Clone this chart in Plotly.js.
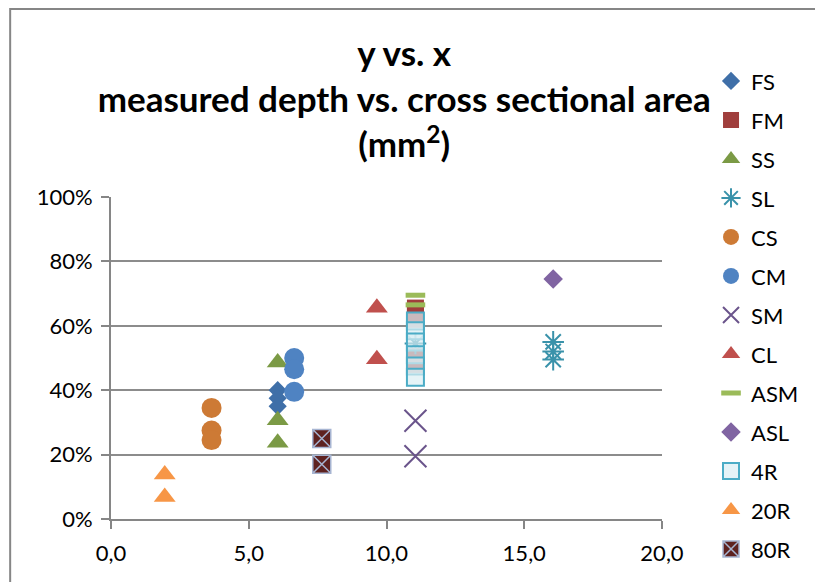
<!DOCTYPE html>
<html>
<head>
<meta charset="utf-8">
<script src="https://cdn.plot.ly/plotly-3.0.1.min.js"></script>
<style>html,body{margin:0;padding:0;background:#fff}#chart{width:815px;height:582px}</style>
</head>
<body>
<div id="chart"></div>
<script>
// Series names (legend order)
const seriesNames = ["FS","FM","SS","SL","CS","CM","SM","CL","ASM","ASL","4R","20R","80R"];

// x = cross sectional area (mm²), y = measured depth (%)
const xFS = [6.05, 6.05, 6.05];          const yFS = [40, 37.5, 35];
const xFM = [11.05, 11.05, 11.05, 11.05, 11.05]; const yFM = [65.5, 63.5, 62, 50.5, 48];
const xSS = [6.05, 6.05, 6.05];          const ySS = [48.6, 30.7, 23.7];
const xSL = [11.05, 16.05, 16.05, 16.05]; const ySL = [54.5, 55, 52, 49.5];
const xCS = [3.65, 3.65, 3.65];          const yCS = [34.5, 27.5, 24.5];
const xCM = [6.65, 6.65, 6.65];          const yCM = [50, 46.5, 39.5];
const xSM = [11.05, 11.05];              const ySM = [30.5, 19.5];
const xCL = [9.65, 9.65];                const yCL = [65.6, 49.6];
const xASM = [11.05, 11.05];             const yASM = [69.5, 66.5];
const xASL = [16.05];                    const yASL = [74.5];
const x4R = [11.05, 11.05, 11.05, 11.05, 11.05, 11.05]; const y4R = [61.5, 58.5, 55, 51, 47.5, 44];
const x20R = [1.95, 1.95];               const y20R = [13.8, 6.8];
const x80R = [7.65, 7.65];               const y80R = [25, 17];

const xTickVals = [0, 5, 10, 15, 20];
const yTickVals = [0, 20, 40, 60, 80, 100];
const yTickText = ["0%", "20%", "40%", "60%", "80%", "100%"];

const FONT = "Lato, 'Open Sans', sans-serif";

function tr(name, xs, ys, marker, gi) {
  return {type: 'scatter', mode: 'markers', name: name, x: xs, y: ys,
          marker: marker, legendgroup: 'g' + gi, cliponaxis: false, hoverinfo: 'x+y'};
}

const data = [
  tr(seriesNames[0], xFS, yFS, {symbol: 'diamond', size: 14, color: '#3F6FA8', line: {width: 0}}, 0),
  tr(seriesNames[1], xFM, yFM, {symbol: 'square', size: 17, color: '#A03E3C', line: {width: 0}}, 1),
  tr(seriesNames[2], xSS, ySS, {symbol: 'triangle-up', size: 19, color: '#7B9A45', line: {width: 0}}, 2),
  tr(seriesNames[3], xSL, ySL, {symbol: 'asterisk-open', size: 18, color: '#3A92AA', line: {width: 2, color: '#3A92AA'}}, 3),
  tr(seriesNames[4], xCS, yCS, {symbol: 'circle', size: 20, color: '#CD7A35', line: {width: 0}}, 4),
  tr(seriesNames[5], xCM, yCM, {symbol: 'circle', size: 20, color: '#4F83C2', line: {width: 0}}, 5),
  tr(seriesNames[6], xSM, ySM, {symbol: 'x-thin-open', size: 22, color: '#6A548B', line: {width: 2, color: '#6A548B'}}, 6),
  tr(seriesNames[7], xCL, yCL, {symbol: 'triangle-up', size: 19, color: '#C0504D', line: {width: 0}}, 7),
  tr(seriesNames[8], xASM, yASM, {symbol: 'line-ew-open', size: 14, color: '#9BBB59', line: {width: 5, color: '#9BBB59'}}, 8),
  tr(seriesNames[9], xASL, yASL, {symbol: 'diamond', size: 15, color: '#8064A2', line: {width: 0}}, 9),
  tr(seriesNames[10], x4R, y4R, {symbol: 'square', size: 17, color: 'rgba(218,238,243,0.7)', line: {width: 2, color: '#4BACC6'}}, 10),
  tr(seriesNames[11], x20R, y20R, {symbol: 'triangle-up', size: 19, color: '#F79646', line: {width: 0}}, 11),
  tr(seriesNames[12], x80R, y80R, {symbol: 'square-x', size: 18, color: '#5E2220', line: {width: 1.5, color: '#A7B5D2'}}, 12)
];

const layout = {
  width: 815, height: 582,
  margin: {l: 111, r: 152, t: 197, b: 63, pad: 0},
  paper_bgcolor: '#ffffff', plot_bgcolor: '#ffffff',
  separators: ',.',
  font: {family: FONT, size: 21, color: '#000000'},
  title: {
    text: '<b>y vs. x<br>measured depth vs. cross sectional area<br>(mm<sup>2</sup>)</b>',
    font: {family: FONT, size: 35, color: '#000000'},
    x: 0.496, xref: 'container', xanchor: 'center',
    y: 0.886, yref: 'container', yanchor: 'top'
  },
  xaxis: {
    range: [0, 20], tickvals: xTickVals, tickformat: '.1f',
    showgrid: false, zeroline: false,
    showline: true, linecolor: '#868686', linewidth: 2,
    ticks: 'outside', ticklen: 8, tickwidth: 2, tickcolor: '#868686',
    tickfont: {family: FONT, size: 22, color: '#000'},
    ticklabelstandoff: 6, fixedrange: true
  },
  yaxis: {
    range: [0, 100], tickvals: yTickVals, ticktext: yTickText,
    showgrid: true, gridcolor: '#8C8C8C', gridwidth: 2, zeroline: false,
    showline: true, linecolor: '#868686', linewidth: 2,
    ticks: 'outside', ticklen: 8, tickwidth: 2, tickcolor: '#868686',
    tickfont: {family: FONT, size: 22, color: '#000'},
    ticklabelstandoff: 4, fixedrange: true
  },
  showlegend: true,
  legend: {
    x: 1.087, xanchor: 'left', y: 1.425, yanchor: 'top',
    font: {family: FONT, size: 22, color: '#000'},
    traceorder: 'grouped', tracegroupgap: 7.4, maxheight: 600,
    bgcolor: 'rgba(0,0,0,0)', borderwidth: 0
  },
  shapes: [{
    type: 'rect', xref: 'paper', yref: 'paper', layer: 'below',
    x0: -0.183, x1: 1.6, y0: -0.6, y1: 1.584,
    line: {color: '#868686', width: 2}, fillcolor: 'rgba(0,0,0,0)'
  }]
};

Plotly.newPlot('chart', data, layout, {displayModeBar: false, staticPlot: true});
</script>
</body>
</html>
